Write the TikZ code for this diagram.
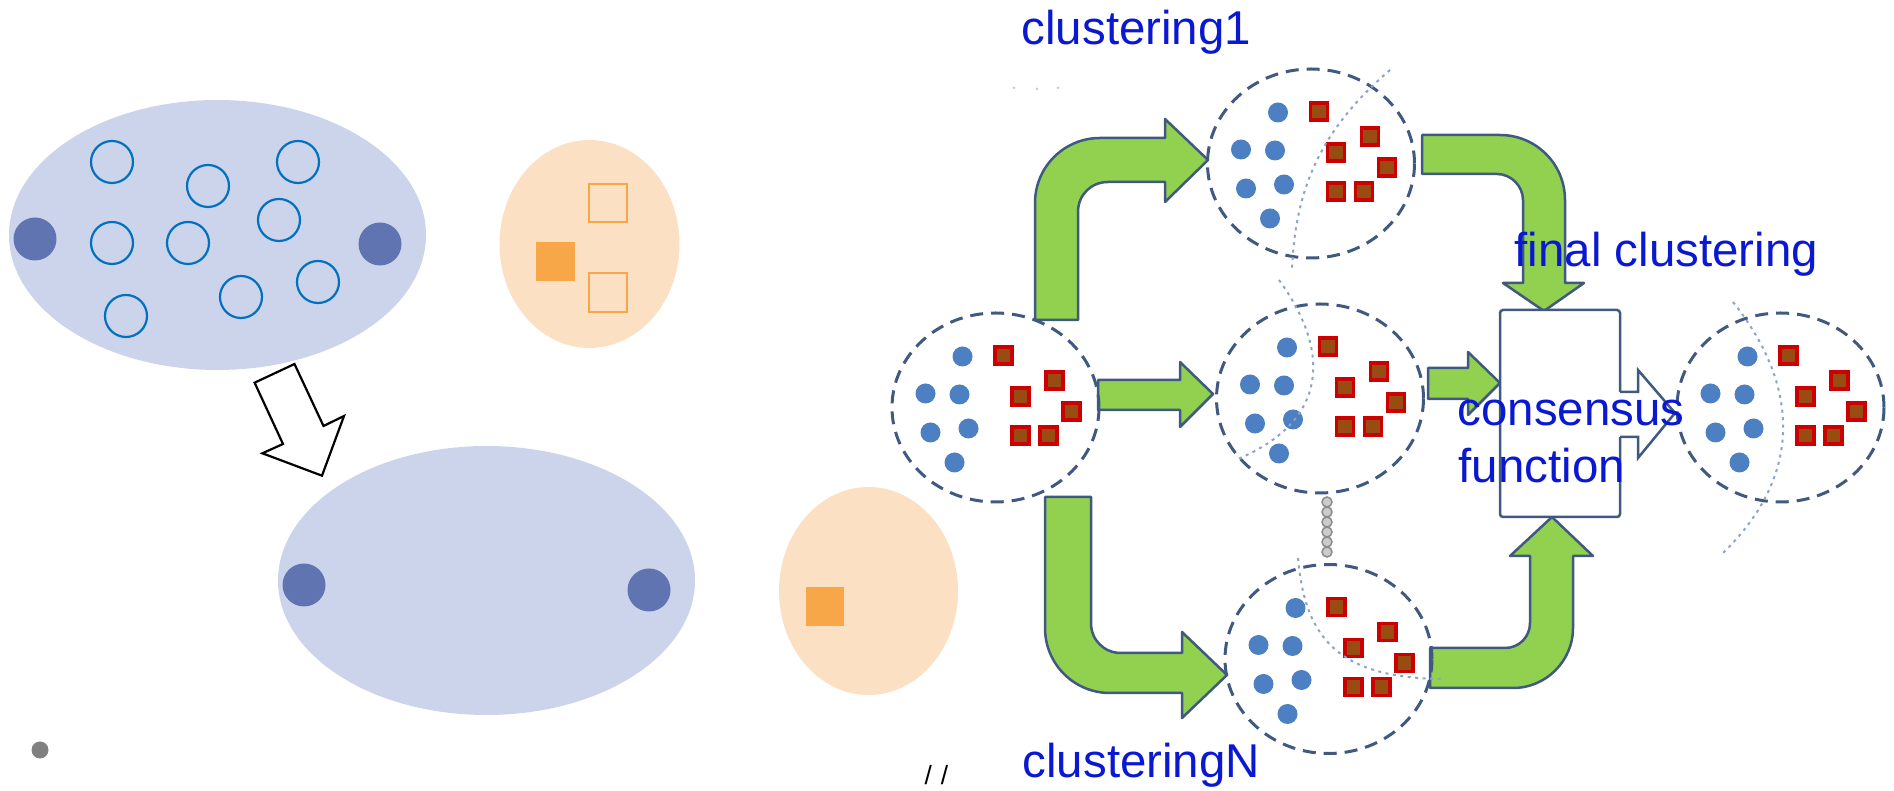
\documentclass[tikz,border=0pt]{standalone}
\usepackage{fontspec}
\setmainfont{Liberation Sans}

\definecolor{ensblue}{rgb}{0.04,0.10,0.82}
\definecolor{arrowline}{rgb}{0.25,0.35,0.50}
\definecolor{arrowgreen}{rgb}{0.573,0.816,0.314}
\definecolor{ptblue}{rgb}{0.30,0.50,0.76}
\definecolor{sqred}{rgb}{0.80,0.0,0.0}
\definecolor{sqbrown}{rgb}{0.60,0.30,0.07}
\definecolor{sepgray}{rgb}{0.56,0.64,0.77}
\definecolor{setfill}{rgb}{0.80,0.83,0.92}
\definecolor{setdot}{rgb}{0.38,0.455,0.70}
\definecolor{ringblue}{rgb}{0.0,0.44,0.75}
\definecolor{peachfill}{rgb}{0.99,0.88,0.77}
\definecolor{peachsq}{rgb}{0.97,0.655,0.28}
\definecolor{chainfill}{rgb}{0.80,0.80,0.80}
\definecolor{chainline}{rgb}{0.55,0.55,0.55}

% points of one clustering, centred on (#1,#2)
\newcommand{\clusterpts}[2]{%
\begin{scope}[shift={(#1,#2)}]
\fill[ptblue] (-33,-51) circle[radius=1mm];
\fill[ptblue] (-70,-14) circle[radius=1mm];
\fill[ptblue] (-36,-13) circle[radius=1mm];
\fill[ptblue] (-65,25) circle[radius=1mm];
\fill[ptblue] (-27,21) circle[radius=1mm];
\fill[ptblue] (-41,55) circle[radius=1mm];
\filldraw[sqbox] (-0.5,-60.5) rectangle +(17,17);
\filldraw[sqbox] (50.5,-35.5) rectangle +(17,17);
\filldraw[sqbox] (16.5,-19.5) rectangle +(17,17);
\filldraw[sqbox] (67.5,-4.5) rectangle +(17,17);
\filldraw[sqbox] (16.5,19.5) rectangle +(17,17);
\filldraw[sqbox] (44.5,19.5) rectangle +(17,17);
\draw[dashring] (0,0) ellipse[x radius=10.35mm,y radius=9.45mm];
\end{scope}}

\begin{document}
\begin{tikzpicture}[x=0.1mm,y=-0.1mm,
  dashring/.style={draw=arrowline,line width=0.3mm,dash pattern=on 1.3mm off 0.8mm},
  greenarrow/.style={fill=arrowgreen,draw=arrowline,line width=0.25mm,line join=round},
  sepline/.style={draw=sepgray,line width=0.2mm,dash pattern=on 0.3mm off 0.45mm},
  sqbox/.style={fill=sqbrown,draw=sqred,line width=0.35mm},
  ring/.style={draw=ringblue,line width=0.22mm},
  bluetext/.style={text=ensblue,font=\fontsize{13.5}{16}\selectfont,inner sep=0pt,anchor=base west}]
\useasboundingbox (0,0) rectangle (1894,791);

% sets before merging
\fill[setfill] (217.5,235) ellipse[x radius=20.85mm,y radius=13.5mm];
\fill[setdot] (35,239) circle[radius=2.15mm];
\fill[setdot] (380,244) circle[radius=2.15mm];
\draw[ring] (112,162) circle[radius=2.1mm];
\draw[ring] (298,162) circle[radius=2.1mm];
\draw[ring] (208,186) circle[radius=2.1mm];
\draw[ring] (279,220) circle[radius=2.1mm];
\draw[ring] (112,243) circle[radius=2.1mm];
\draw[ring] (188,243) circle[radius=2.1mm];
\draw[ring] (318,282) circle[radius=2.1mm];
\draw[ring] (241,297) circle[radius=2.1mm];
\draw[ring] (126,316) circle[radius=2.1mm];
\fill[peachfill] (589.5,244) ellipse[x radius=9mm,y radius=10.4mm];
\fill[peachsq] (536,242) rectangle (575,281);
\draw[peachsq,line width=0.22mm] (589,184) rectangle (627,222);
\draw[peachsq,line width=0.22mm] (589,273) rectangle (627,312);
\filldraw[fill=white,draw=black,line width=0.22mm] (254.6,382.7) -- (294.5,364) -- (323.5,426) -- (344,416) -- (322,475.7) -- (262.4,453.3) -- (283,444) -- cycle;

% sets after merging
\fill[setfill] (486.5,580.5) ellipse[x radius=20.85mm,y radius=13.45mm];
\fill[setdot] (304,585) circle[radius=2.15mm];
\fill[setdot] (649,590) circle[radius=2.15mm];
\fill[peachfill] (868.5,591) ellipse[x radius=8.95mm,y radius=10.4mm];
\fill[peachsq] (805.5,587) rectangle (843.5,626);
\fill[gray] (40,750) circle[radius=0.85mm];
\node[inner sep=0pt,anchor=base west,font=\fontsize{7.5}{9}\selectfont] (slashes) at (924,785) {/\,\,/};
\fill[black!20] (1014,88) circle[radius=0.15mm];
\fill[black!20] (1037,89) circle[radius=0.15mm];
\fill[black!20] (1058,88) circle[radius=0.15mm];

% green arrows
\draw[greenarrow] (1035,320) -- (1035,203) .. controls (1035,167) and (1064,138) .. (1100,138) -- (1165,138) -- (1165,119) -- (1208,160) -- (1165,202) -- (1165,182) -- (1108,182) .. controls (1091,182) and (1078,195) .. (1078,212) -- (1078,320) -- cycle;
\draw[greenarrow] (1098,380) -- (1180,380) -- (1180,362) -- (1213,394) -- (1180,427) -- (1180,410) -- (1098,410) -- cycle;
\draw[greenarrow] (1045,497) -- (1045,628) .. controls (1045,664) and (1074,693) .. (1110,693) -- (1182,693) -- (1182,718) -- (1227,675) -- (1182,632) -- (1182,653) -- (1121,653) .. controls (1104,653) and (1091,640) .. (1091,623) -- (1091,497) -- cycle;
\draw[greenarrow] (1422,135) -- (1500,135) .. controls (1536,135) and (1565,164) .. (1565,200) -- (1565,283) -- (1584,283) -- (1544,311) -- (1503,283) -- (1523,283) -- (1523,200) .. controls (1523,186) and (1511,174) .. (1497,174) -- (1422,174) -- cycle;
\draw[greenarrow] (1428,368) -- (1468,368) -- (1468,352) -- (1500,383) -- (1468,415) -- (1468,399) -- (1428,399) -- cycle;
\draw[greenarrow] (1430,648) -- (1505,648) .. controls (1519,648) and (1530,637) .. (1530,623) -- (1530,556) -- (1510,556) -- (1552,517) -- (1593,556) -- (1573,556) -- (1573,628) .. controls (1573,661) and (1546,688) .. (1513,688) -- (1430,688) -- cycle;

% clusterings
\clusterpts{995.5}{407.5}
\clusterpts{1311}{163.5}
\clusterpts{1320}{398.5}
\clusterpts{1328.5}{659}
\clusterpts{1780.5}{407.5}
\draw[sepline] (1390,70) .. controls (1320,130) and (1295,190) .. (1292,270);
\draw[sepline] (1279,280) .. controls (1330,350) and (1330,420) .. (1238,459);
\draw[sepline] (1298,558) .. controls (1305,640) and (1340,678) .. (1443,679);
\draw[sepline] (1733,302) .. controls (1795,380) and (1808,470) .. (1723,553);

% dots between clusterings
\filldraw[fill=chainfill,draw=chainline,line width=0.15mm] (1327,502) circle[radius=0.5mm];
\filldraw[fill=chainfill,draw=chainline,line width=0.15mm] (1327,512) circle[radius=0.5mm];
\filldraw[fill=chainfill,draw=chainline,line width=0.15mm] (1327,522) circle[radius=0.5mm];
\filldraw[fill=chainfill,draw=chainline,line width=0.15mm] (1327,532) circle[radius=0.5mm];
\filldraw[fill=chainfill,draw=chainline,line width=0.15mm] (1327,542) circle[radius=0.5mm];
\filldraw[fill=chainfill,draw=chainline,line width=0.15mm] (1327,552) circle[radius=0.5mm];

% consensus box
\filldraw[fill=white,draw=arrowline,line width=0.25mm,rounded corners=0.3mm] (1500,310) rectangle (1620,517);
\fill[white] (1618,392) -- (1638,392) -- (1638,370) -- (1675,413) -- (1638,458) -- (1638,437) -- (1618,437) -- cycle;
\draw[arrowline,line width=0.25mm] (1620,392) -- (1638,392) -- (1638,370) -- (1675,413) -- (1638,458) -- (1638,437) -- (1620,437);

% labels
\node[bluetext] (c1text) at (1021,45) {clustering1};
\node[bluetext] (cNtext) at (1022,778) {clusteringN};
\node[bluetext] (fintext) at (1514,267) {final clustering};
\node[bluetext] (constext) at (1457,426) {consensus};
\node[bluetext] (functext) at (1458,483) {function};
\end{tikzpicture}
\end{document}
